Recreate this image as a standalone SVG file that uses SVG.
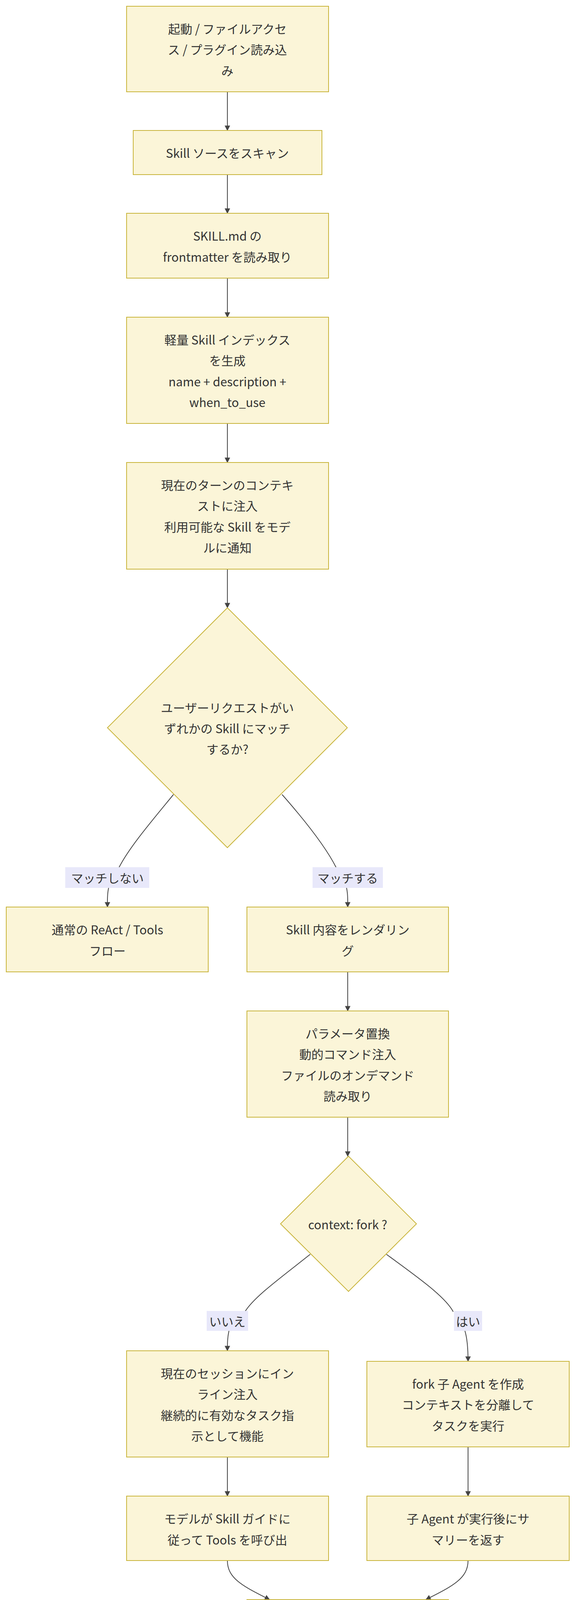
<svg xmlns="http://www.w3.org/2000/svg" width="1482" height="4592" viewBox="0 0 1482 4592">
<style>
.n{fill:#fbf5d8;stroke:#c9b53c;stroke-width:2}
.t{font-family:"Noto Sans CJK JP","Noto Sans",sans-serif;font-size:31px;fill:#333;text-anchor:middle;dominant-baseline:central}
.e{fill:none;stroke:#444;stroke-width:2;marker-end:url(#a)}
.p{fill:none;stroke:#444;stroke-width:2}
.lb{fill:#e8e8fa}
</style>
<defs><marker id="a" viewBox="0 0 10 10" refX="9" refY="5" markerWidth="7" markerHeight="7" orient="auto"><path d="M0,0L10,5L0,10z" fill="#444"/></marker></defs>
<rect width="1482" height="4592" fill="#fff"/>
<g id="edges">
<path class="e" d="M582,235V334"/>
<path class="e" d="M582,447V546"/>
<path class="e" d="M582,712V812"/>
<path class="e" d="M582,1084V1184"/>
<path class="e" d="M582,1457V1556"/>
<path class="p" d="M444,2034C390,2100 330,2170 304,2222"/>
<path class="e" d="M278,2273C274,2290 275,2305 275,2322"/>
<path class="p" d="M722,2034C780,2100 835,2170 861,2222"/>
<path class="e" d="M887,2273C891,2290 890,2305 890,2322"/>
<path class="e" d="M890,2488V2588"/>
<path class="e" d="M890,2860V2960"/>
<path class="p" d="M794,3211C720,3270 650,3320 627,3358"/>
<path class="e" d="M586,3407C582,3425 582,3440 582,3458"/>
<path class="p" d="M989,3211C1070,3270 1140,3320 1160,3358"/>
<path class="e" d="M1190,3407C1197,3430 1198,3460 1198,3485"/>
<path class="e" d="M582,3730V3830"/>
<path class="e" d="M1198,3704V3830"/>
<path class="e" d="M582,3995C582,4040 620,4060 690,4095"/>
<path class="e" d="M1198,3995C1198,4040 1160,4060 1090,4095"/>
<path class="e" d="M890,4260V4360"/>
<rect class="lb" x="167" y="2220" width="215" height="53"/>
<text class="t" x="275" y="2246">マッチしない</text>
<rect class="lb" x="800" y="2220" width="180" height="53"/>
<text class="t" x="890" y="2246">マッチする</text>
<rect class="lb" x="529" y="3356" width="106" height="51"/>
<text class="t" x="582" y="3381">いいえ</text>
<rect class="lb" x="1162" y="3356" width="72" height="51"/>
<text class="t" x="1198" y="3381">はい</text>
</g>
<g id="n1"><rect class="n" x="324" y="16" width="517" height="219"/><text class="t"><tspan x="582" y="72">起動 / ファイルアクセ</tspan><tspan x="582" y="125">ス / プラグイン読み込</tspan><tspan x="582" y="179">み</tspan></text></g>
<g id="n2"><rect class="n" x="341" y="334" width="483" height="113"/><text class="t" x="582" y="390">Skill ソースをスキャン</text></g>
<g id="n3"><rect class="n" x="324" y="546" width="517" height="166"/><text class="t"><tspan x="582" y="602">SKILL.md の</tspan><tspan x="582" y="656">frontmatter を読み取り</tspan></text></g>
<g id="n4"><rect class="n" x="324" y="812" width="517" height="272"/><text class="t"><tspan x="582" y="868">軽量 Skill インデックス</tspan><tspan x="582" y="921">を生成</tspan><tspan x="582" y="975">name + description +</tspan><tspan x="582" y="1028">when_to_use</tspan></text></g>
<g id="n5"><rect class="n" x="324" y="1184" width="517" height="273"/><text class="t"><tspan x="582" y="1240">現在のターンのコンテキ</tspan><tspan x="582" y="1293">ストに注入</tspan><tspan x="582" y="1347">利用可能な Skill をモデ</tspan><tspan x="582" y="1400">ルに通知</tspan></text></g>
<g id="d1"><polygon class="n" points="582,1556 889,1863 582,2170 275,1863"/><text class="t"><tspan x="582" y="1810">ユーザーリクエストがい</tspan><tspan x="582" y="1863">ずれかの Skill にマッチ</tspan><tspan x="582" y="1916">するか?</tspan></text></g>
<g id="n6"><rect class="n" x="16" y="2322" width="517" height="166"/><text class="t"><tspan x="275" y="2378">通常の ReAct / Tools</tspan><tspan x="275" y="2432">フロー</tspan></text></g>
<g id="n7"><rect class="n" x="632" y="2322" width="516" height="166"/><text class="t"><tspan x="890" y="2378">Skill 内容をレンダリン</tspan><tspan x="890" y="2432">グ</tspan></text></g>
<g id="n8"><rect class="n" x="632" y="2588" width="516" height="272"/><text class="t"><tspan x="890" y="2644">パラメータ置換</tspan><tspan x="890" y="2697">動的コマンド注入</tspan><tspan x="890" y="2751">ファイルのオンデマンド</tspan><tspan x="890" y="2804">読み取り</tspan></text></g>
<g id="d2"><polygon class="n" points="892,2960 1066,3133 892,3306 718,3133"/><text class="t" x="890" y="3133">context: fork ?</text></g>
<g id="n9"><rect class="n" x="324" y="3458" width="517" height="272"/><text class="t"><tspan x="582" y="3514">現在のセッションにイン</tspan><tspan x="582" y="3567">ライン注入</tspan><tspan x="582" y="3621">継続的に有効なタスク指</tspan><tspan x="582" y="3674">示として機能</tspan></text></g>
<g id="n10"><rect class="n" x="939" y="3485" width="518" height="219"/><text class="t"><tspan x="1198" y="3541">fork 子 Agent を作成</tspan><tspan x="1198" y="3594">コンテキストを分離して</tspan><tspan x="1198" y="3648">タスクを実行</tspan></text></g>
<g id="n11"><rect class="n" x="324" y="3830" width="517" height="165"/><text class="t"><tspan x="582" y="3886">モデルが Skill ガイドに</tspan><tspan x="582" y="3940">従って Tools を呼び出</tspan></text></g>
<g id="n12"><rect class="n" x="939" y="3830" width="518" height="165"/><text class="t"><tspan x="1198" y="3886">子 Agent が実行後にサ</tspan><tspan x="1198" y="3940">マリーを返す</tspan></text></g>
<g id="n13"><rect class="n" x="632" y="4095" width="516" height="165"/><text class="t"><tspan x="890" y="4151">結果がメッセージ履歴に</tspan><tspan x="890" y="4205">追加</tspan></text></g>
<g id="n14"><rect class="n" x="632" y="4360" width="516" height="165"/><text class="t"><tspan x="890" y="4416">後続ターンで ReAct ル</tspan><tspan x="890" y="4470">ープを継続</tspan></text></g>
</svg>
